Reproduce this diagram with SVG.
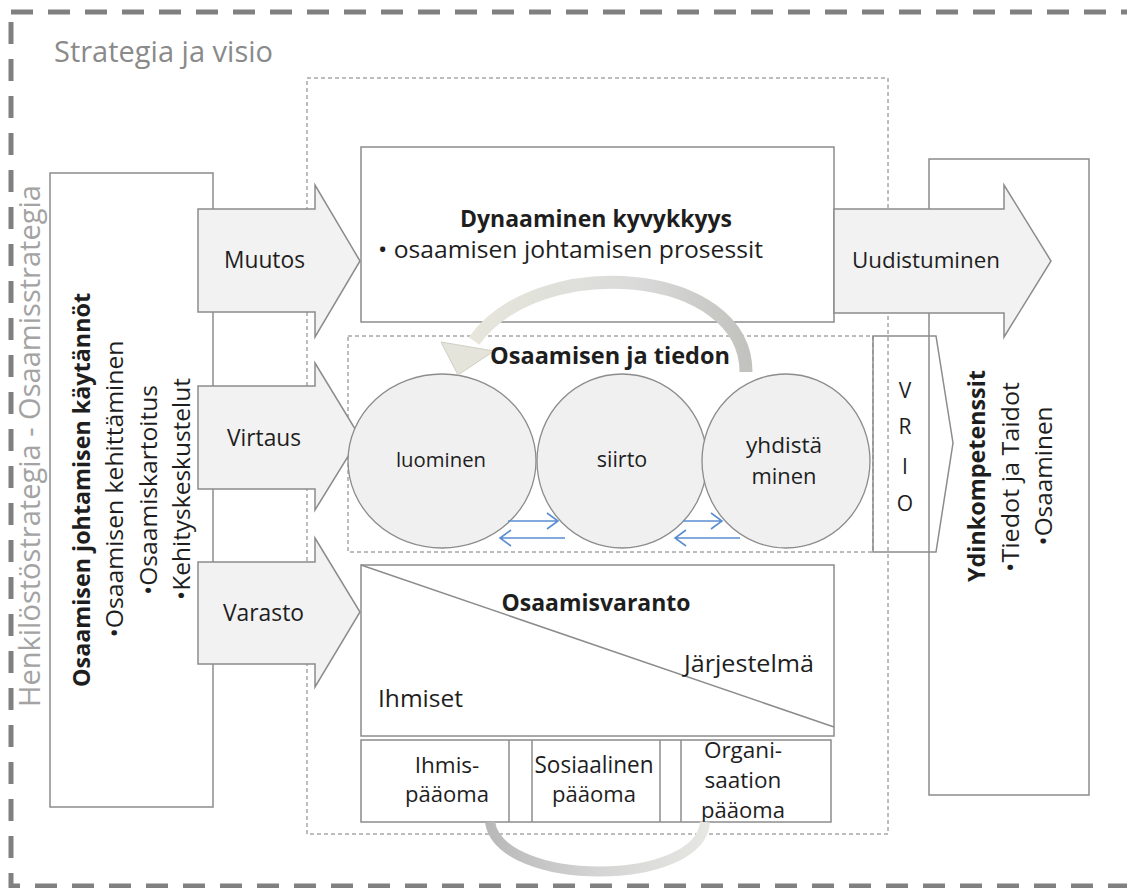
<svg xmlns="http://www.w3.org/2000/svg" width="1127" height="888" viewBox="0 0 1127 888">
<defs>
<style>
text{font-family:"Open Sans","Noto Sans","Liberation Sans",sans-serif;fill:#1e1e1e}
.b{font-weight:bold}
.box{fill:#ffffff;stroke:#8c8c8c;stroke-width:1.5}
.ln{fill:none;stroke:#8c8c8c;stroke-width:1.5}
.dash{fill:none;stroke:#7a7a7a;stroke-width:1;stroke-dasharray:4 3}
.blk{fill:#f2f2f2;stroke:#8c8c8c;stroke-width:1.5;stroke-linejoin:miter}
.circ{fill:#f0f0f0;stroke:#8c8c8c;stroke-width:1.3}
.blue{fill:none;stroke:#5b8fd1;stroke-width:1.6}
.m{text-anchor:middle}
</style>
<linearGradient id="gTop" x1="0" y1="0" x2="1" y2="0">
<stop offset="0" stop-color="#e6e6dc"/>
<stop offset="0.6" stop-color="#dadada"/>
<stop offset="1" stop-color="#c2c2be"/>
</linearGradient>
<linearGradient id="gBot" x1="0" y1="0" x2="1" y2="0">
<stop offset="0" stop-color="#b9b9b9"/>
<stop offset="0.5" stop-color="#d4d4d4"/>
<stop offset="1" stop-color="#e6e6e2"/>
</linearGradient>
</defs>

<g id="strategy-frame">
<rect x="11" y="12" width="1140" height="874" fill="none" stroke="#808080" stroke-width="5" stroke-dasharray="22 15"/>
<text x="54" y="62" font-size="29" style="fill:#8a8a8a" textLength="219" lengthAdjust="spacingAndGlyphs">Strategia ja visio</text>
<text transform="translate(40,446) rotate(-90)" class="m" font-size="29" style="fill:#a3a3a3" textLength="522" lengthAdjust="spacingAndGlyphs">Henkilöstöstrategia - Osaamisstrategia</text>
</g>

<g id="core-frame">
<rect x="307" y="78" width="581" height="756" class="dash"/>
</g>

<g id="practices">
<rect x="50" y="173" width="163" height="634" class="box"/>
<text transform="translate(90,490) rotate(-90)" class="m b" font-size="23" textLength="394" lengthAdjust="spacingAndGlyphs">Osaamisen johtamisen käytännöt</text>
<text transform="translate(123,489) rotate(-90)" class="m" font-size="24.5" textLength="297" lengthAdjust="spacingAndGlyphs">•Osaamisen kehittäminen</text>
<text transform="translate(157,490) rotate(-90)" class="m" font-size="24.5" textLength="210" lengthAdjust="spacingAndGlyphs">•Osaamiskartoitus</text>
<text transform="translate(190,489) rotate(-90)" class="m" font-size="24.5" textLength="222" lengthAdjust="spacingAndGlyphs">•Kehityskeskustelut</text>
</g>

<g id="core-competences">
<rect x="929" y="159" width="160" height="636" class="box"/>
<text transform="translate(985,476) rotate(-90)" class="m b" font-size="23" textLength="212" lengthAdjust="spacingAndGlyphs">Ydinkompetenssit</text>
<text transform="translate(1019,477) rotate(-90)" class="m" font-size="24" textLength="190" lengthAdjust="spacingAndGlyphs">•Tiedot ja Taidot</text>
<text transform="translate(1052,476) rotate(-90)" class="m" font-size="24" textLength="139" lengthAdjust="spacingAndGlyphs">•Osaaminen</text>
</g>

<g id="dynamic-capability">
<rect x="361" y="147" width="473" height="175" class="box"/>
<text x="596" y="227" class="m b" font-size="23" textLength="272" lengthAdjust="spacingAndGlyphs">Dynaaminen kyvykkyys</text>
<text x="378" y="258" font-size="24.5" textLength="385" lengthAdjust="spacingAndGlyphs">• osaamisen johtamisen prosessit</text>
</g>

<g id="knowledge-flow">
<rect x="348" y="336" width="525" height="216" class="dash"/>
</g>

<g id="knowledge-stock">
<rect x="361" y="565" width="473" height="171" class="box"/>
<line x1="361" y1="565" x2="834" y2="727" class="ln"/>
<text x="596" y="611" class="m b" font-size="23" textLength="189" lengthAdjust="spacingAndGlyphs">Osaamisvaranto</text>
<text x="684" y="672" font-size="24.5" textLength="130" lengthAdjust="spacingAndGlyphs">Järjestelmä</text>
<text x="378" y="707" font-size="24" textLength="85" lengthAdjust="spacingAndGlyphs">Ihmiset</text>
</g>

<g id="capitals">
<rect x="361" y="740" width="470" height="82" class="box"/>
<line x1="509" y1="740" x2="509" y2="822" class="ln"/>
<line x1="532" y1="740" x2="532" y2="822" class="ln"/>
<line x1="660" y1="740" x2="660" y2="822" class="ln"/>
<line x1="681" y1="740" x2="681" y2="822" class="ln"/>
<text x="447" y="773" class="m" font-size="22.5">Ihmis-</text>
<text x="447" y="802" class="m" font-size="22.5" textLength="84" lengthAdjust="spacingAndGlyphs">pääoma</text>
<text x="594" y="773" class="m" font-size="23" textLength="119" lengthAdjust="spacingAndGlyphs">Sosiaalinen</text>
<text x="594" y="802" class="m" font-size="22.5" textLength="84" lengthAdjust="spacingAndGlyphs">pääoma</text>
<text x="743" y="758" class="m" font-size="22.5">Organi-</text>
<text x="743" y="788" class="m" font-size="22.5">saation</text>
<text x="743" y="818" class="m" font-size="22.5" textLength="84" lengthAdjust="spacingAndGlyphs">pääoma</text>
</g>

<g id="arrow-muutos">
<polygon points="198,209 315,209 315,185 360,261 315,337 315,312 198,312" class="blk"/>
<text x="224" y="268" font-size="23" textLength="81" lengthAdjust="spacingAndGlyphs">Muutos</text>
</g>
<g id="arrow-virtaus">
<polygon points="198,386 315,386 315,363 360,437 315,510 315,489 198,489" class="blk"/>
<text x="227" y="446" font-size="23" textLength="74" lengthAdjust="spacingAndGlyphs">Virtaus</text>
</g>
<g id="arrow-varasto">
<polygon points="198,562 315,562 315,538 360,612 315,687 315,664 198,664" class="blk"/>
<text x="223" y="621" font-size="23" textLength="81" lengthAdjust="spacingAndGlyphs">Varasto</text>
</g>
<g id="arrow-uudistuminen">
<polygon points="834,209 1004,209 1004,185 1051,261 1004,337 1004,313 834,313" class="blk"/>
<text x="852" y="268" font-size="22.5" textLength="148" lengthAdjust="spacingAndGlyphs">Uudistuminen</text>
</g>

<g id="vrio">
<polygon points="873,336 936,336 953,443 936,552 873,552" class="ln"/>
<text x="905" y="398" class="m" font-size="21">V</text>
<text x="905" y="434" class="m" font-size="21">R</text>
<text x="905" y="474" class="m" font-size="21">I</text>
<text x="905" y="511" class="m" font-size="21">O</text>
</g>

<g id="luominen">
<ellipse cx="442" cy="461" rx="94" ry="87" class="circ"/>
<text x="441" y="467" class="m" font-size="20.5" textLength="90" lengthAdjust="spacingAndGlyphs">luominen</text>
</g>
<g id="siirto">
<ellipse cx="622" cy="461" rx="85" ry="87" class="circ"/>
<text x="622" y="467" class="m" font-size="21.5">siirto</text>
</g>
<g id="yhdistaminen">
<ellipse cx="786" cy="461" rx="84" ry="87" class="circ"/>
<text x="784" y="453" class="m" font-size="21.5" textLength="76" lengthAdjust="spacingAndGlyphs">yhdistä</text>
<text x="784" y="484" class="m" font-size="21.5" textLength="65" lengthAdjust="spacingAndGlyphs">minen</text>
</g>

<g id="connectors">
<path d="M508 521 H558 M547 513 L558 521 L547 529" class="blue"/>
<path d="M565 538 H500 M511 530 L500 538 L511 546" class="blue"/>
<path d="M683 521 H722 M711 513 L722 521 L711 529" class="blue"/>
<path d="M740 538 H675 M686 530 L675 538 L686 546" class="blue"/>
<path d="M746 372 C746 268 540 250 474 341" fill="none" stroke="url(#gTop)" stroke-width="13"/>
<polygon points="441,342 494,351 458,375" fill="#e4e4da" stroke="#cfcfc6" stroke-width="1"/>
<path d="M490 822 C500 888 700 888 705 822" fill="none" stroke="url(#gBot)" stroke-width="10"/>
</g>

<g id="knowledge-flow-title">
<text x="610" y="364" class="m b" font-size="23" textLength="240" lengthAdjust="spacingAndGlyphs">Osaamisen ja tiedon</text>
</g>
</svg>
